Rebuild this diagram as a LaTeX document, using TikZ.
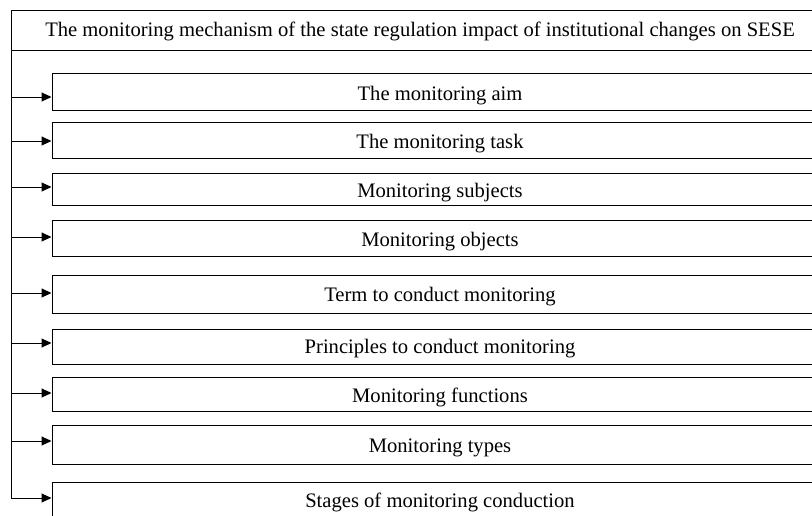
\documentclass[tikz,border=0pt]{standalone}
\usepackage{fontspec}
\setmainfont{Liberation Serif}
\usetikzlibrary{arrows.meta}
\begin{document}
\begin{tikzpicture}[x=1pt,y=-1pt,
  line width=1pt,
  boxnode/.style={draw, rectangle, inner sep=0pt, minimum width=778pt},
  lbl/.style={anchor=base, inner sep=0pt, font=\fontsize{20.6}{24}\selectfont},
  arr/.style={-{Triangle[length=10pt,width=9pt]}}]
\useasboundingbox (0,0) rectangle (812,515);
\clip (0,0) rectangle (812,515);
% header
\node[draw, rectangle, inner sep=0pt, anchor=north west, minimum width=830pt, minimum height=40pt] (head) at (11,10) {};
\node[lbl] (headtxt) at (420,36) {The monitoring mechanism of the state regulation impact of institutional changes on SESE};
% boxes
\foreach \n/\cy/\h/\ty/\txt in {
  1/91.5/37/100/{The monitoring aim},
  2/140/36/148/{The monitoring task},
  3/189/32/197/{Monitoring subjects},
  4/238/36/246/{Monitoring objects},
  5/294/38/301/{Term to conduct monitoring},
  6/346.5/35/353/{Principles to conduct monitoring},
  7/394/34/402/{Monitoring functions},
  8/444.5/39/452/{Monitoring types},
  9/506/48/507/{Stages of monitoring conduction}}{
  \node[boxnode, minimum height=\h pt] (b\n) at (441,\cy) {};
  \begin{scope}
    \clip (b\n.north west) rectangle (b\n.south east);
    \node[lbl] (t\n) at (440,\ty) {\txt};
  \end{scope}
}
% junction points on trunk
\foreach \n/\ay in {1/97,2/141,3/187,4/237,5/293,6/343,7/393,8/441,9/498}{
  \coordinate (j\n) at (11,\ay);
}
\draw (head.south west) -- (j9);
\foreach \n in {1,...,9}{
  \draw[arr] (j\n) -- (j\n -| b\n.west);
}
\end{tikzpicture}
\end{document}
